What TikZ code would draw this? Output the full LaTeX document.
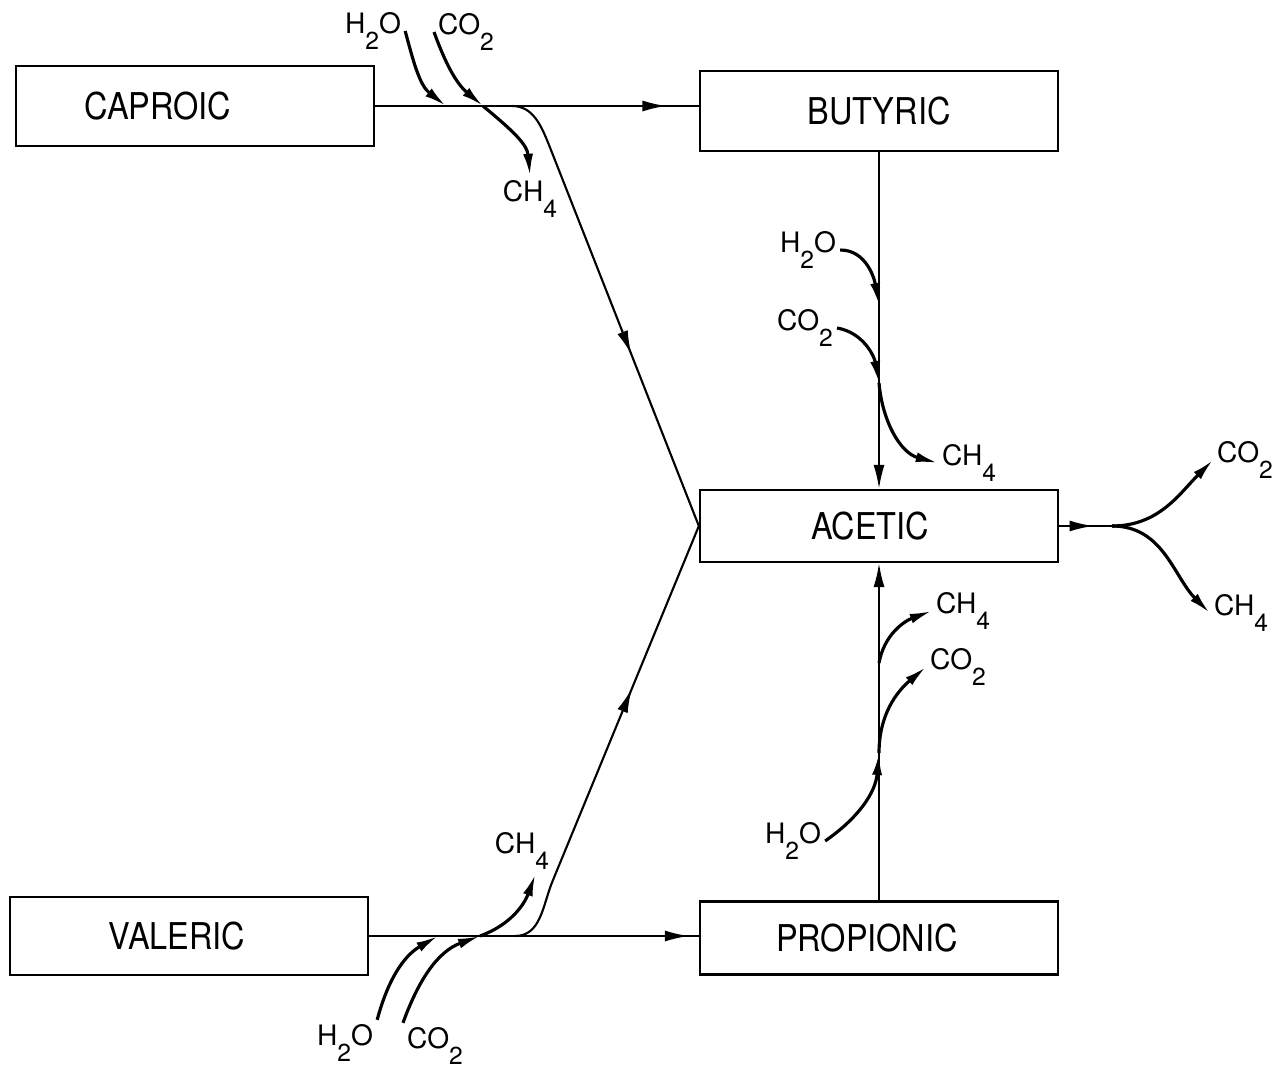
\documentclass[tikz,border=0pt]{standalone}
\usepackage{fontspec}
\setmainfont{TeX Gyre Heros}
\newfontfamily\acidfont{TeX Gyre Heros}[FakeStretch=0.88]
\usetikzlibrary{arrows.meta,decorations.markings}
\newcommand{\lowsub}[1]{\raisebox{-0.6em}{\fontsize{7}{8}\selectfont #1}}
\tikzset{
  acid/.style={rectangle,draw=black,line width=0.6pt,minimum width=3.58cm,
               minimum height=0.8cm,font=\acidfont\fontsize{10.5}{12}\selectfont},
  gas/.style={inner sep=1pt,font=\fontsize{8}{9}\selectfont},
  flow/.style={draw=black,line width=0.6pt},
  endarr/.style={-{Latex[length=2.4mm,width=1.1mm]}},
  sidearr/.style={-{Latex[length=2.2mm,width=1mm]},line width=0.9pt},
  midarr/.style={postaction={decorate},decoration={markings,
                 mark=at position #1 with {\arrow{Latex[length=2.4mm,width=1.1mm]}}}},
}

\begin{document}
\begin{tikzpicture}[x=0.01cm,y=-0.01cm]
  \useasboundingbox (0,0) rectangle (1286,1068);
  % --- acid boxes ---
  \node[acid] (caproic) at (195,106) {CAPROIC\kern0.74cm};
  \node[acid] (butyric) at (879,111) {BUTYRIC};
  \node[acid,minimum height=0.72cm] (acetic) at (879,526) {ACETIC\kern0.18cm};
  \node[acid,minimum height=0.78cm] (valeric) at (189,936) {VALERIC\kern0.24cm};
  \node[acid,minimum height=0.73cm] (propionic) at (879,938) {PROPIONIC\kern0.24cm};
  % --- gas labels ---
  \node[gas] (h2oC) at (373,31) {H\lowsub{2}O};
  \node[gas] (co2C) at (466,32) {CO\lowsub{2}};
  \node[gas] (ch4C) at (530,199) {CH\lowsub{4}};
  \node[gas] (h2oB) at (808,250) {H\lowsub{2}O};
  \node[gas] (co2B) at (805,328) {CO\lowsub{2}};
  \node[gas] (ch4B) at (969,463) {CH\lowsub{4}};
  \node[gas] (co2O) at (1245,460) {CO\lowsub{2}};
  \node[gas] (ch4O) at (1241,613) {CH\lowsub{4}};
  \node[gas] (ch4P) at (963,611) {CH\lowsub{4}};
  \node[gas] (co2P) at (958,667) {CO\lowsub{2}};
  \node[gas] (h2oP) at (793,841) {H\lowsub{2}O};
  \node[gas] (ch4V) at (522,851) {CH\lowsub{4}};
  \node[gas] (h2oV) at (345,1043) {H\lowsub{2}O};
  \node[gas] (co2V) at (435,1046) {CO\lowsub{2}};
  % --- points on the flow lines ---
  \coordinate (cH) at (446,106);
  \coordinate (cC) at (483,106);
  \coordinate (cBr) at (512,106);
  \coordinate (cBend) at (549,145);
  \coordinate (bH) at (879,305);
  \coordinate (bC) at (879,383);
  \coordinate (pH) at (879,753);
  \coordinate (pM) at (879,663);
  \coordinate (vH) at (438,936);
  \coordinate (vC) at (480,936);
  \coordinate (vBr) at (515,936);
  \coordinate (vBend) at (553,880);
  \coordinate (split) at (1112,526);
  % --- main flows ---
  \draw[flow,midarr=0.9] (caproic.east) -- (caproic.east -| butyric.west);
  \draw[flow] (cBr) to[out=0,in=112] (cBend);
  \draw[flow,midarr=0.55] (cBend) -- (acetic.west);
  \draw[flow,endarr] (butyric) -- (acetic);
  \draw[flow,endarr] (propionic) -- (acetic);
  \draw[flow,midarr=0.97] (valeric.east) -- (valeric.east -| propionic.west);
  \draw[flow] (vBr) to[out=0,in=-113] (vBend);
  \draw[flow,midarr=0.54] (vBend) -- (acetic.west);
  \draw[flow,midarr=0.65] (acetic.east) -- (split);
  \draw[sidearr] (split) to[out=0,in=-135] (co2O.west);
  \draw[sidearr] (split) to[out=0,in=135] (ch4O.west);
  % --- side gases ---
  \draw[sidearr] (h2oC.east) to[out=-75,in=142] (cH);
  \draw[sidearr] (co2C.west) to[out=-70,in=140] (cC);
  \draw[sidearr] (cC) to[out=-40,in=95] (ch4C.north);
  \draw[sidearr] (h2oB.east) to[out=0,in=100] (bH);
  \draw[sidearr] (co2B.east) to[out=-10,in=100] (bC);
  \draw[sidearr] (bC) to[out=-85,in=165] (ch4B.west);
  \draw[sidearr] (h2oP.east) to[out=35,in=-95] (pH);
  \draw[sidearr] (pH) to[out=90,in=-140] (co2P.west);
  \draw[sidearr] (pM) to[out=80,in=-160] (ch4P.west);
  \draw[sidearr] (h2oV.north east) to[out=75,in=-150] (vH);
  \draw[sidearr] (co2V.north west) to[out=70,in=-160] (vC);
  \draw[sidearr] (vC) to[out=20,in=-110] (ch4V.-60);
\end{tikzpicture}
\end{document}
